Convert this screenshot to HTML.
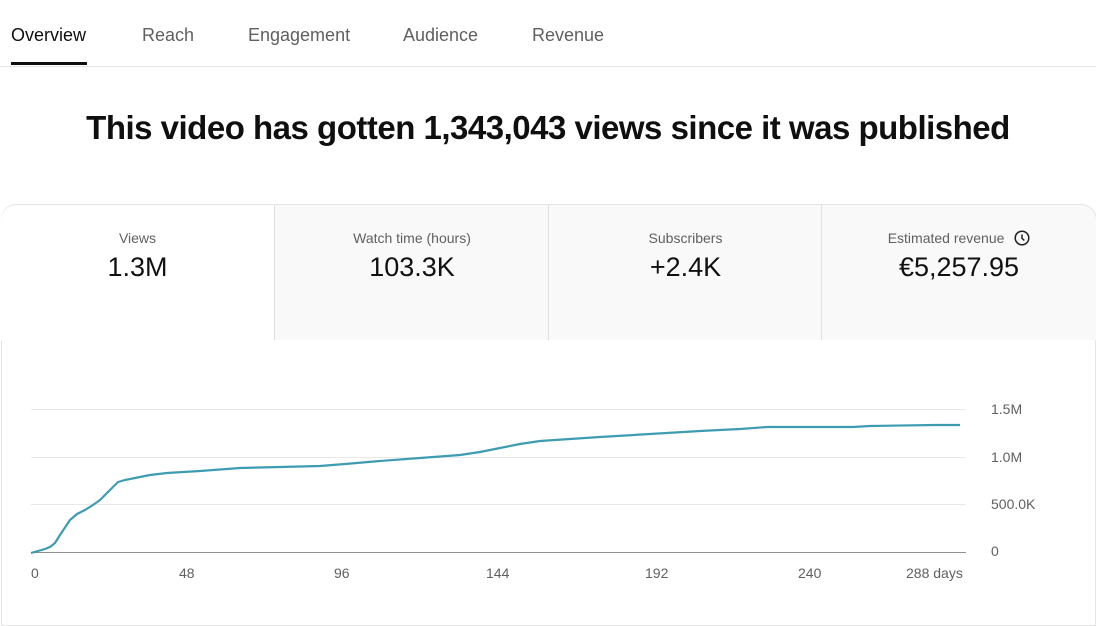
<!DOCTYPE html>
<html><head><style>
body{margin:0;width:1096px;height:613px;background:#fff;font-family:"Liberation Sans",sans-serif;position:relative;overflow:hidden}
.t{position:absolute;top:25px;font-size:18px;color:#606060}
.card{position:absolute;top:204px;height:135px;text-align:center;border-left:1px solid #e0e0e0;background:#f9f9f9;border-top:1px solid #e5e5e5}
.lab{margin-top:25px;font-size:14px;color:#606060;height:16px;line-height:16px}
.val{margin-top:6px;font-size:27px;color:#111}
.ax{position:absolute;font-size:14px;color:#606060}
</style></head><body>
<div class="t" style="left:11px;color:#0f0f0f">Overview</div>
<div class="t" style="left:142px">Reach</div>
<div class="t" style="left:248px">Engagement</div>
<div class="t" style="left:403px">Audience</div>
<div class="t" style="left:532px">Revenue</div>
<div style="position:absolute;left:11px;top:62px;width:76px;height:3px;background:#0f0f0f"></div>
<div style="position:absolute;left:0;top:66px;width:1096px;height:1px;background:#e5e5e5"></div>
<div style="position:absolute;left:0;width:1096px;top:109px;text-align:center;font-size:33px;font-weight:bold;color:#0f0f0f;letter-spacing:-0.5px">This video has gotten 1,343,043 views since it was published</div>
<div style="position:absolute;left:1px;top:204px;width:1093px;height:420px;border:1px solid #e5e5e5;border-radius:16px 16px 0 0"></div>
<div class="card" style="left:1px;width:273px;background:#fff;border-left:none;border-radius:16px 0 0 0"><div class="lab">Views</div><div class="val">1.3M</div></div>
<div class="card" style="left:274px;width:274px"><div class="lab">Watch time (hours)</div><div class="val">103.3K</div></div>
<div class="card" style="left:548px;width:273px"><div class="lab">Subscribers</div><div class="val">+2.4K</div></div>
<div class="card" style="left:821px;width:274px;border-radius:0 16px 0 0;border-right:1px solid #e5e5e5"><div class="lab">Estimated revenue <svg width="16" height="16" viewBox="0 0 16 16" style="vertical-align:-3px;margin-left:6px"><circle cx="8" cy="8" r="6.8" fill="none" stroke="#222" stroke-width="1.5"/><path d="M8 4.5V8.3L10.3 10.5" fill="none" stroke="#222" stroke-width="1.5"/></svg></div><div class="val">€5,257.95</div></div>
<svg style="position:absolute;left:0;top:0" width="1096" height="613">
<g stroke="#e8e8e8" stroke-width="1"><line x1="31" x2="966" y1="409.5" y2="409.5"/><line x1="31" x2="966" y1="457.5" y2="457.5"/><line x1="31" x2="966" y1="504.5" y2="504.5"/></g>
<line x1="31" x2="966" y1="552.5" y2="552.5" stroke="#909090"/>
<polyline fill="none" stroke="#3d9cb2" stroke-width="2.2" stroke-linejoin="round" points="31,553 38,551 45,549 50,547 55,543 60,535 66,526 70,520 77,514 85,510 93,505 100,500 106,494 112,488 118,482 125,480 135,478 150,475 167,473 200,471 240,468 280,467 320,466 345,464 380,461 420,458 460,455 480,452 500,448 520,444 540,441 600,437 650,434 700,431 740,429 767,427 853,427 870,426 935,425 960,425"/>
</svg>
<div class="ax" style="left:31px;top:565px">0</div>
<div class="ax" style="left:179px;top:565px">48</div>
<div class="ax" style="left:334px;top:565px">96</div>
<div class="ax" style="left:486px;top:565px">144</div>
<div class="ax" style="left:645px;top:565px">192</div>
<div class="ax" style="left:798px;top:565px">240</div>
<div class="ax" style="left:906px;top:565px">288 days</div>
<div class="ax" style="left:991px;top:401px">1.5M</div>
<div class="ax" style="left:991px;top:449px">1.0M</div>
<div class="ax" style="left:991px;top:496px">500.0K</div>
<div class="ax" style="left:991px;top:543px">0</div>
</body></html>
